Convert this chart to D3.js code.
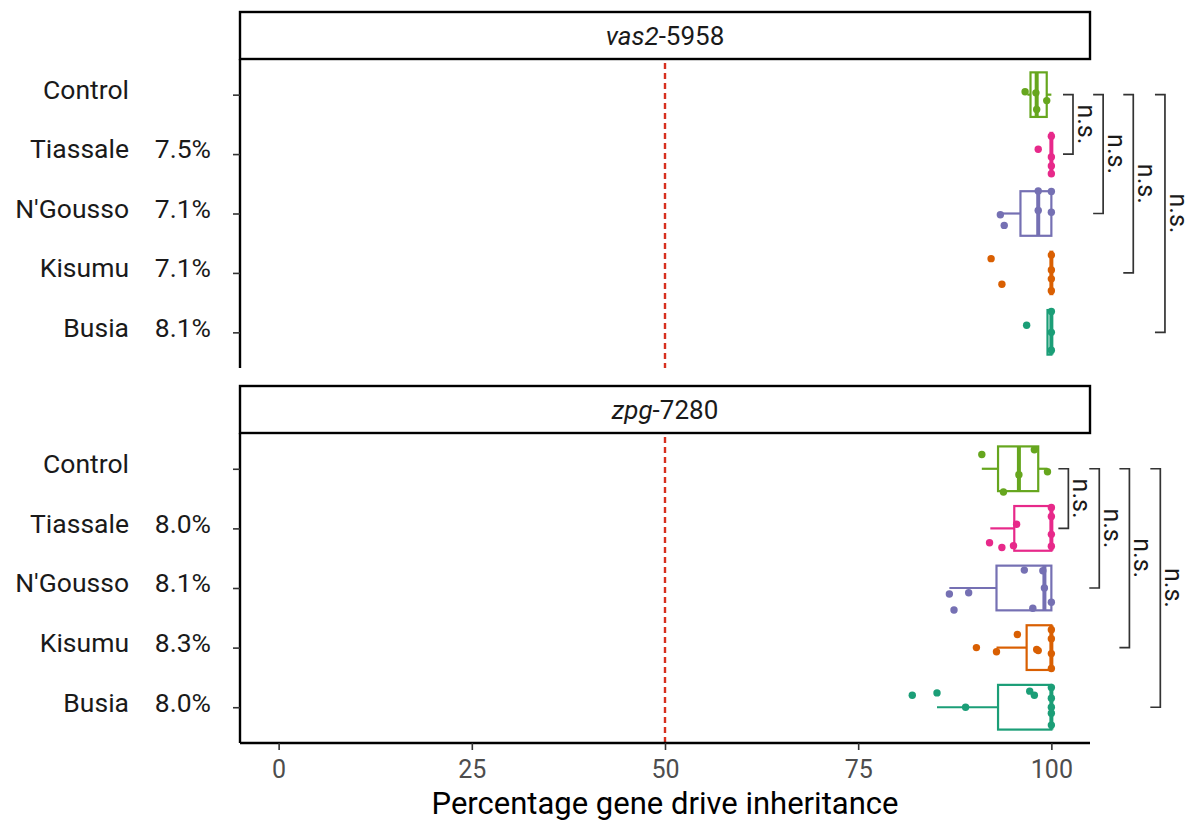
<!DOCTYPE html>
<html>
<head>
<meta charset="utf-8">
<script src="https://cdn.jsdelivr.net/npm/d3@7"></script>
<style>
  body { margin: 0; background: #fff; }
  text { font-family: Roboto, "Noto Sans", sans-serif; }
</style>
</head>
<body>
<div id="chart"></div>
<script>
// categories, top to bottom
var strains = ["Control", "Tiassale", "N'Gousso", "Kisumu", "Busia"];
var strainColors = ["#66a61e", "#e7298a", "#7570b3", "#d95f02", "#1b9e77"];
var xTicks = [0, 25, 50, 75, 100];

// panel names (italic part + rest)
var panelItalic = ["vas2", "zpg"];
var panelRest = ["-5958", "-7280"];

// percentage labels beside each strain (Control has none)
var pctVas2 = ["", "7.5%", "7.1%", "7.1%", "8.1%"];
var pctZpg = ["", "8.0%", "8.1%", "8.3%", "8.0%"];

// box stats per strain: [whisker low, q1, median, q3, whisker high]
var boxVas2 = [
    [96.9, 97.3, 98.1, 99.4, 100],
    [100, 100, 100, 100, 100],
    [93.4, 96.0, 98.3, 100, 100],
    [100, 100, 100, 100, 100],
    [99.5, 99.5, 100, 100, 100]
];
var boxZpg = [
    [91.0, 93.1, 95.8, 98.3, 99.5],
    [92.1, 95.2, 100, 100, 100],
    [86.8, 92.9, 99.1, 100, 100],
    [92.9, 96.8, 100, 100, 100],
    [85.2, 93.1, 100, 100, 100]
];

// individual replicate values and their jitter (fraction of a row)
var ptsVas2 = [
    [96.6, 98.0, 98.1, 99.4],
    [100, 100, 100, 100, 98.3],
    [93.4, 93.9, 100, 100, 98.3, 98.3],
    [92.2, 93.6, 100, 100, 100, 100],
    [96.8, 100, 100, 100]
];
var jitVas2 = [
    [-0.05, -0.03, 0.25, 0.1],
    [-0.3, 0.05, 0.2, 0.33, -0.08],
    [0.02, 0.2, -0.37, -0.02, -0.38, -0.05],
    [-0.24, 0.19, -0.3, -0.05, 0.1, 0.3],
    [-0.12, -0.35, 0.0, 0.3]
];
var ptsZpg = [
    [91.0, 97.8, 93.8, 99.5, 95.8],
    [92.0, 93.6, 95.1, 95.5, 100, 100, 100, 100],
    [86.8, 89.3, 87.4, 96.5, 97.6, 100, 98.9, 99.1],
    [90.3, 95.6, 92.9, 98.1, 98.3, 100, 100, 100, 100],
    [82.0, 85.2, 88.9, 97.2, 97.8, 100, 100, 100, 100, 100]
];
var jitZpg = [
    [-0.24, -0.32, 0.39, 0.05, 0.1],
    [0.24, 0.32, 0.29, -0.07, -0.35, -0.2, 0.1, 0.3],
    [0.1, 0.08, 0.37, -0.3, 0.34, 0.24, -0.29, 0.0],
    [0.0, -0.22, 0.07, 0.03, 0.05, -0.3, -0.15, 0.1, 0.35],
    [-0.2, -0.24, 0.0, -0.27, -0.2, -0.33, -0.15, 0.0, 0.1, 0.3]
];

// significance brackets: Control vs each strain, x position in data units
var sigTargets = ["Tiassale", "N'Gousso", "Kisumu", "Busia"];
var sigXVas2 = [102.8, 106.7, 110.6, 114.7];
var sigXZpg = [102.2, 106.2, 110.1, 114.1];
var sigLabel = "n.s.";

var W = 1197, H = 823;
var panelLeft = 240, panelRight = 1090;

var svg = d3.select("#chart")
    .append("svg")
    .attr("width", W)
    .attr("height", H);

var x = d3.scaleLinear()
    .domain([-5, 105])
    .range([panelLeft, panelRight]);

var panels = [
    { strip: [12, 59], body: [59, 368], boxes: boxVas2, pts: ptsVas2, jit: jitVas2, pct: pctVas2, sigX: sigXVas2 },
    { strip: [386, 433], body: [433, 743], boxes: boxZpg, pts: ptsZpg, jit: jitZpg, pct: pctZpg, sigX: sigXZpg }
];

panels.forEach(function (p, pi) {
    var y = d3.scalePoint()
        .domain(strains)
        .range(p.body)
        .padding(0.6);
    var step = y.step();
    var boxH = step * 0.75;

    // strip
    svg.append("rect")
        .attr("x", panelLeft)
        .attr("y", p.strip[0])
        .attr("width", panelRight - panelLeft)
        .attr("height", p.strip[1] - p.strip[0])
        .attr("fill", "#fff")
        .attr("stroke", "#000")
        .attr("stroke-width", 2.4);
    var st = svg.append("text")
        .attr("x", (panelLeft + panelRight) / 2)
        .attr("y", (p.strip[0] + p.strip[1]) / 2)
        .attr("dy", "0.35em")
        .attr("text-anchor", "middle")
        .style("font-size", "26px")
        .attr("fill", "#1a1a1a");
    st.append("tspan").style("font-style", "italic").text(panelItalic[pi]);
    st.append("tspan").text(panelRest[pi]);

    // dashed reference line at 50%
    svg.append("line")
        .attr("x1", x(50)).attr("x2", x(50))
        .attr("y1", p.body[0] + 4).attr("y2", p.body[1])
        .attr("stroke", "#d7301f")
        .attr("stroke-width", 2.4)
        .attr("stroke-dasharray", "6,4");

    // y axis
    var ya = svg.append("g")
        .attr("transform", "translate(" + panelLeft + ",0)")
        .call(d3.axisLeft(y).tickSize(7).tickFormat(""));
    ya.select(".domain").attr("stroke", "#000").attr("stroke-width", 2.4)
        .attr("d", "M0," + p.body[0] + "V" + p.body[1]);
    ya.selectAll(".tick line").attr("stroke", "#333").attr("stroke-width", 1.6);

    // category labels and percentages
    svg.selectAll(".lab" + pi)
        .data(strains)
        .enter()
        .append("text")
        .attr("x", 129)
        .attr("y", function (d) { return y(d) - 5; })
        .attr("dy", "0.35em")
        .attr("text-anchor", "end")
        .style("font-size", "26.5px")
        .attr("fill", "#1a1a1a")
        .text(function (d) { return d; });
    svg.selectAll(".pct" + pi)
        .data(p.pct)
        .enter()
        .append("text")
        .attr("x", 211)
        .attr("y", function (d, i) { return y(strains[i]) - 5; })
        .attr("dy", "0.35em")
        .attr("text-anchor", "end")
        .style("font-size", "26.5px")
        .attr("fill", "#1a1a1a")
        .text(function (d) { return d; });

    // boxplots
    strains.forEach(function (s, i) {
        var b = p.boxes[i];
        var c = strainColors[i];
        var cy = y(s);
        var g = svg.append("g");
        // whiskers
        g.append("line")
            .attr("x1", x(b[0])).attr("x2", x(b[1]))
            .attr("y1", cy).attr("y2", cy)
            .attr("stroke", c).attr("stroke-width", 2.2);
        g.append("line")
            .attr("x1", x(b[3])).attr("x2", x(b[4]))
            .attr("y1", cy).attr("y2", cy)
            .attr("stroke", c).attr("stroke-width", 2.2);
        // box
        g.append("rect")
            .attr("x", x(b[1]))
            .attr("y", cy - boxH / 2)
            .attr("width", x(b[3]) - x(b[1]))
            .attr("height", boxH)
            .attr("fill", "none")
            .attr("stroke", c).attr("stroke-width", 2.2);
        // median
        g.append("line")
            .attr("x1", x(b[2])).attr("x2", x(b[2]))
            .attr("y1", cy - boxH / 2).attr("y2", cy + boxH / 2)
            .attr("stroke", c).attr("stroke-width", 4);

        // jittered points
        g.selectAll("circle")
            .data(p.pts[i])
            .enter()
            .append("circle")
            .attr("cx", function (d) { return x(d); })
            .attr("cy", function (d, k) { return cy + p.jit[i][k] * step; })
            .attr("r", 3.7)
            .attr("fill", c);
    });

    // significance brackets
    var y0 = y("Control");
    sigTargets.forEach(function (t, k) {
        var bx = x(p.sigX[k]);
        var y1 = y(t);
        svg.append("path")
            .attr("d", "M" + (bx - 10) + "," + y0 + "H" + bx + "V" + y1 + "H" + (bx - 10))
            .attr("fill", "none")
            .attr("stroke", "#333")
            .attr("stroke-width", 1.7);
        var ty = (y0 + y1) / 2;
        svg.append("text")
            .attr("transform", "translate(" + (bx + 5) + "," + ty + ") rotate(90)")
            .attr("text-anchor", "middle")
            .style("font-size", "25px")
            .attr("fill", "#1a1a1a")
            .text(sigLabel);
    });

    // x axis only on bottom panel
    if (pi === panels.length - 1) {
        var xa = svg.append("g")
            .attr("transform", "translate(0," + p.body[1] + ")")
            .call(d3.axisBottom(x).tickValues(xTicks).tickSize(7).tickPadding(10));
        xa.select(".domain").attr("stroke", "#000").attr("stroke-width", 2.4)
            .attr("d", "M" + panelLeft + ",0H" + panelRight);
        xa.selectAll(".tick line").attr("stroke", "#333").attr("stroke-width", 1.6);
        xa.selectAll(".tick text")
            .style("font-size", "25px")
            .style("font-family", "Roboto, sans-serif")
            .attr("fill", "#4d4d4d");
    }
});

// x axis title
svg.append("text")
    .attr("x", (panelLeft + panelRight) / 2)
    .attr("y", 814)
    .attr("text-anchor", "middle")
    .style("font-size", "31px")
    .attr("fill", "#000")
    .text("Percentage gene drive inheritance");
</script>
</body>
</html>
